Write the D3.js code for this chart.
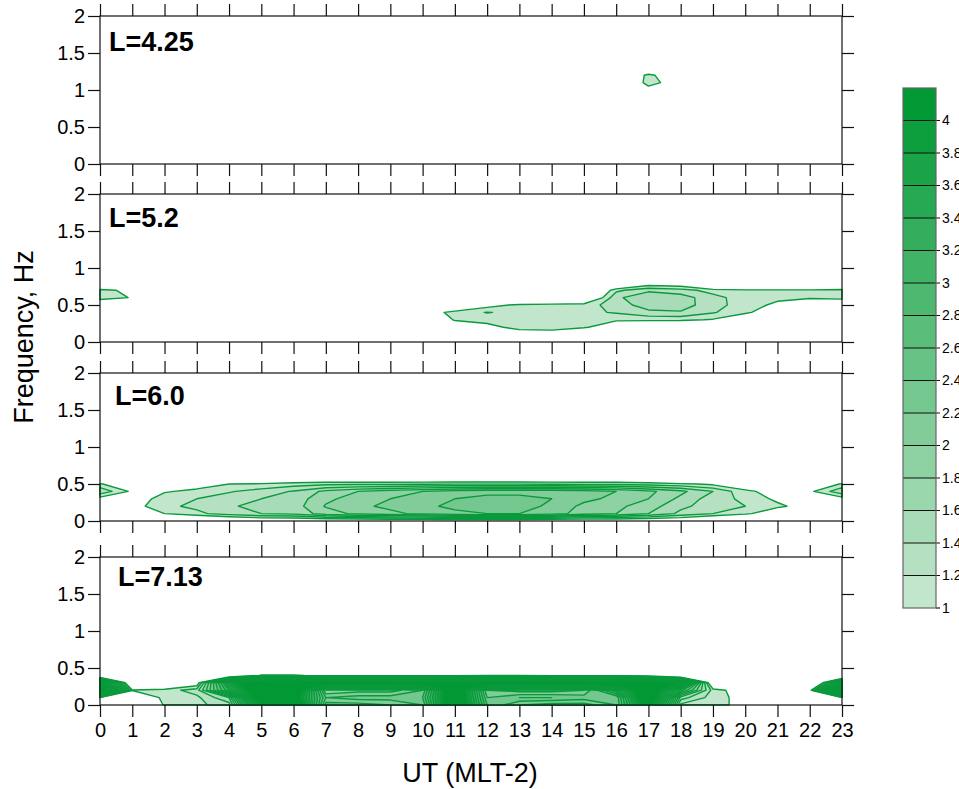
<!DOCTYPE html>
<html><head><meta charset="utf-8">
<script src="https://cdn.jsdelivr.net/npm/d3@7"></script>
<style>body{margin:0;background:#fff;} svg{display:block;font-family:"Liberation Sans",Arial,sans-serif;}</style>
</head><body>
<svg id="c" width="959" height="789"></svg>
<script>
// ---------- data ----------
const hourTicks = [0,1,2,3,4,5,6,7,8,9,10,11,12,13,14,15,16,17,18,19,20,21,22,23];
const freqTicks = [0, 0.5, 1, 1.5, 2];
const freqGrid = [0,0.1,0.2,0.3,0.4,0.5,0.6,0.7,0.8,0.9,1.0,1.1,1.2,1.3,1.4,1.5,1.6,1.7,1.8,1.9,2.0];
const levels = [1,1.2,1.4,1.6,1.8,2,2.2,2.4,2.6,2.8,3,3.2,3.4,3.6,3.8,4];
const levelTop = 4.2;
const levelColors = ["#c2e6cc","#b5e1c2","#a8dcb8","#9bd7ad","#8ed2a3","#81cc99","#74c78f","#67c285",
                     "#5abd7a","#4eb870","#41b366","#34ae5c","#27a852","#1aa347","#0d9e3d","#009933"];
const panelLabels = ["L=4.25","L=5.2","L=6.0","L=7.13"];

// rows: [frequency, values for hours 0..23]; rows not listed are 0
const panel1Rows = [
  [1.0, [0,0,0,0,0,0,0,0,0,0,0,0,0,0,0,0,0,0.8,0.3,0,0,0,0,0]],
  [1.1, [0,0,0,0,0,0,0,0,0,0,0,0,0,0,0,0,0.1,1.18,0.7,0,0,0,0,0]],
  [1.2, [0,0,0,0,0,0,0,0,0,0,0,0,0,0,0,0,0,1.15,0.4,0,0,0,0,0]]
];
const panel2Rows = [
  [0.1, [0,0,0,0,0,0,0,0,0,0,0,0,0,0.8,0.85,0.3,0,0,0,0,0,0,0,0]],
  [0.2, [0,0,0,0,0,0,0,0,0,0,0,0.5,0.9,1.1,1.1,1.05,0.7,0.6,0.5,0.3,0,0,0,0]],
  [0.3, [0,0,0,0,0,0,0,0,0,0,0.3,1.05,1.1,1.15,1.12,1.1,1.05,1.05,1.05,0.98,0.7,0.3,0,0]],
  [0.4, [0,0,0,0,0,0,0,0,0,0,0.8,1.1,1.21,1.15,1.15,1.15,1.22,1.35,1.38,1.22,1.05,0.8,0.5,0.4]],
  [0.5, [0.4,0.2,0,0,0,0,0,0,0,0,0.2,0.5,0.9,1.05,1.1,1.1,1.3,1.5,1.5,1.28,1.1,0.95,0.8,0.8]],
  [0.6, [1.2,0.97,0,0,0,0,0,0,0,0,0,0,0.2,0.3,0.3,0.5,1.35,1.58,1.5,1.27,1.1,1.05,1.03,1.05]],
  [0.7, [1.1,0.9,0,0,0,0,0,0,0,0,0,0,0,0,0,0.3,1.15,1.35,1.28,1.12,1.05,1.05,1.05,1.1]],
  [0.8, [0,0,0,0,0,0,0,0,0,0,0,0,0,0,0,0,0.3,0.8,0.75,0,0,0,0,0]]
];
const panel3Rows = [
  [0.0, [0,0,0.3,0.5,0.6,0.7,0.7,0.7,0.7,0.7,0.7,0.7,0.7,0.7,0.7,0.7,0.7,0.7,0.7,0.5,0.3,0,0,0]],
  [0.1, [0,0.5,1.0,1.15,1.3,1.4,1.45,1.7,1.85,1.95,2.05,2.15,2.2,2.2,2.1,1.9,1.8,1.6,1.35,1.2,1.05,0.8,0.3,0]],
  [0.2, [0.5,0.9,1.15,1.25,1.38,1.45,1.5,1.82,1.95,2.05,2.15,2.25,2.3,2.3,2.15,1.95,1.85,1.7,1.45,1.3,1.2,1.05,0.88,0.3]],
  [0.3, [0.9,0.85,1.1,1.2,1.3,1.4,1.48,1.75,1.9,2.0,2.1,2.2,2.25,2.25,2.2,2.05,1.95,1.8,1.55,1.3,1.15,0.95,0.7,0.9]],
  [0.4, [1.35,0.95,0.98,1.05,1.18,1.28,1.42,1.65,1.8,1.9,2.0,2.1,2.15,2.15,2.15,2.1,2.0,1.85,1.65,1.4,1.05,0.9,0.95,1.35]],
  [0.5, [1.05,0.5,0.6,0.9,1.0,1.05,1.1,1.15,1.15,1.15,1.17,1.18,1.18,1.18,1.17,1.15,1.15,1.1,1.05,0.95,0.8,0.5,0.5,1.05]],
  [0.6, [0,0,0,0,0,0,0.5,0.5,0.5,0.5,0.5,0.5,0.5,0.5,0.5,0.5,0.5,0.5,0,0,0,0,0,0]]
];
const panel4Rows = [
  [0.0, [0.5,0,1.05,1.15,1.3,4.0,5,1.9,1.9,2.0,2.2,5,2.4,2.0,1.9,1.9,2.2,4.5,1.15,1.1,0.9,0,0,0.5]],
  [0.1, [1.0,0.5,1.1,1.15,1.6,5,4.5,2.2,2.3,2.3,2.4,5,2.2,2.4,2.4,2.3,2.2,5,1.5,1.1,0.9,0,0.3,1.0]],
  [0.2, [5,1.02,1.1,1.3,3.0,5,5,1.8,1.9,1.9,2.2,5,2.0,1.9,1.9,2.0,3,5,2.5,1.1,0.85,0,0.8,5]],
  [0.3, [3.5,0.3,0.3,0.8,3.5,5.5,6,5,5,5,5,5,5,5,5,5,5,5,4,0.5,0,0,0,2.5]],
  [0.4, [0,0,0,0,0.3,1.05,1.05,0.9,0.9,0.9,0.9,0.9,1.0,1.0,0.9,0.9,0.9,0.6,0,0,0,0,0,0]]
];
const panelRows = [panel1Rows, panel2Rows, panel3Rows, panel4Rows];

// ---------- layout ----------
const plotLeft = 100, plotRight = 842;
const panelTops = [16, 194, 373, 557];
const panelH = 148;
const labelPos = [[109, 51], [109, 227], [115, 405], [118, 586]];
const fontFam = '"Liberation Sans", Arial, sans-serif';
const lineColor = "#0a9a3c";

const svg = d3.select("#c");
const x = d3.scaleLinear().domain([hourTicks[0], hourTicks[hourTicks.length-1]]).range([plotLeft, plotRight]);
const nx = hourTicks.length, ny = freqGrid.length;
const fStep = freqGrid[1] - freqGrid[0];

panelRows.forEach((rows, p) => {
  const top = panelTops[p], bottom = top + panelH;
  const y = d3.scaleLinear().domain([0, 2]).range([bottom, top]);
  const g = svg.append("g");

  const values = new Array(nx * ny).fill(0);
  rows.forEach(([f, vals]) => {
    const j = Math.round(f / fStep);
    vals.forEach((v, i) => { values[j * nx + i] = v; });
  });
  const contours = d3.contours().size([nx, ny]).thresholds(levels)(values);
  const proj = d3.geoTransform({
    point: function(gx, gy) {
      const h = Math.max(hourTicks[0], Math.min(hourTicks[nx-1], hourTicks[0] + (gx - 0.5)));
      const f = Math.max(0, Math.min(2, freqGrid[0] + (gy - 0.5) * fStep));
      this.stream.point(x(h), y(f));
    }
  });
  const path = d3.geoPath(proj);
  g.append("g").selectAll("path").data(contours).join("path")
    .attr("d", path)
    .attr("fill", d => levelColors[levels.indexOf(d.value)])
    .attr("stroke", lineColor)
    .attr("stroke-width", 1.4)
    .attr("stroke-linejoin", "round");

  g.append("rect").attr("x", plotLeft).attr("y", top).attr("width", plotRight - plotLeft).attr("height", panelH)
    .attr("fill", "none").attr("stroke", "#111").attr("stroke-width", 1.2);

  const styleAxis = sel => {
    sel.attr("font-family", fontFam).attr("font-size", 20);
    sel.select(".domain").remove();
    sel.selectAll(".tick line").attr("stroke", "#111").attr("stroke-width", 1.2);
    sel.selectAll(".tick text").attr("fill", "#000");
  };
  g.append("g").attr("transform", `translate(${plotLeft},0)`)
    .call(d3.axisLeft(y).tickValues(freqTicks).tickSize(12).tickPadding(3).tickFormat(d => String(d)))
    .call(styleAxis);
  g.append("g").attr("transform", `translate(${plotRight},0)`)
    .call(d3.axisRight(y).tickValues(freqTicks).tickSize(12).tickFormat(""))
    .call(styleAxis);
  g.append("g").attr("transform", `translate(0,${top})`)
    .call(d3.axisTop(x).tickValues(hourTicks).tickSize(12).tickFormat(""))
    .call(styleAxis);
  const last = p === panelRows.length - 1;
  g.append("g").attr("transform", `translate(0,${bottom})`)
    .call(d3.axisBottom(x).tickValues(hourTicks).tickSize(12).tickPadding(6).tickFormat(last ? (d => String(d)) : ""))
    .call(styleAxis);

  g.append("text").attr("x", labelPos[p][0]).attr("y", labelPos[p][1])
    .attr("font-family", fontFam).attr("font-size", 27).attr("font-weight", "bold")
    .text(panelLabels[p]);
});

svg.append("text").attr("x", 470).attr("y", 782).attr("text-anchor", "middle")
  .attr("font-family", fontFam).attr("font-size", 27).text("UT (MLT-2)");
svg.append("text").attr("transform", "translate(33,337) rotate(-90)").attr("text-anchor", "middle")
  .attr("font-family", fontFam).attr("font-size", 27).text("Frequency, Hz");

// colorbar
const cbX = 903, cbW = 33, cbTop = 88, cbBottom = 608;
const cy = d3.scaleLinear().domain([levels[0], levelTop]).range([cbBottom, cbTop]);
const cb = svg.append("g");
const bandEdges = levels.concat([levelTop]);
cb.selectAll("rect.band").data(levels).join("rect").attr("class", "band")
  .attr("x", cbX).attr("width", cbW)
  .attr("y", (d, i) => cy(bandEdges[i+1]))
  .attr("height", (d, i) => cy(bandEdges[i]) - cy(bandEdges[i+1]))
  .attr("fill", (d, i) => levelColors[i]);
cb.selectAll("line.edge").data(levels.slice(1)).join("line").attr("class", "edge")
  .attr("x1", cbX).attr("x2", cbX + cbW + 4)
  .attr("y1", d => cy(d)).attr("y2", d => cy(d))
  .attr("stroke", "#111").attr("stroke-width", 1.2);
cb.append("line").attr("x1", cbX + cbW).attr("x2", cbX + cbW + 4)
  .attr("y1", cy(levels[0])).attr("y2", cy(levels[0])).attr("stroke", "#111").attr("stroke-width", 1.2);
cb.append("rect").attr("x", cbX).attr("y", cbTop).attr("width", cbW).attr("height", cbBottom - cbTop)
  .attr("fill", "none").attr("stroke", "#666").attr("stroke-width", 1.2);
cb.selectAll("text").data(levels).join("text")
  .attr("x", cbX + cbW + 6).attr("y", d => cy(d)).attr("dy", "0.35em")
  .attr("font-family", fontFam).attr("font-size", 14)
  .text(d => String(d));
</script>
</body></html>
